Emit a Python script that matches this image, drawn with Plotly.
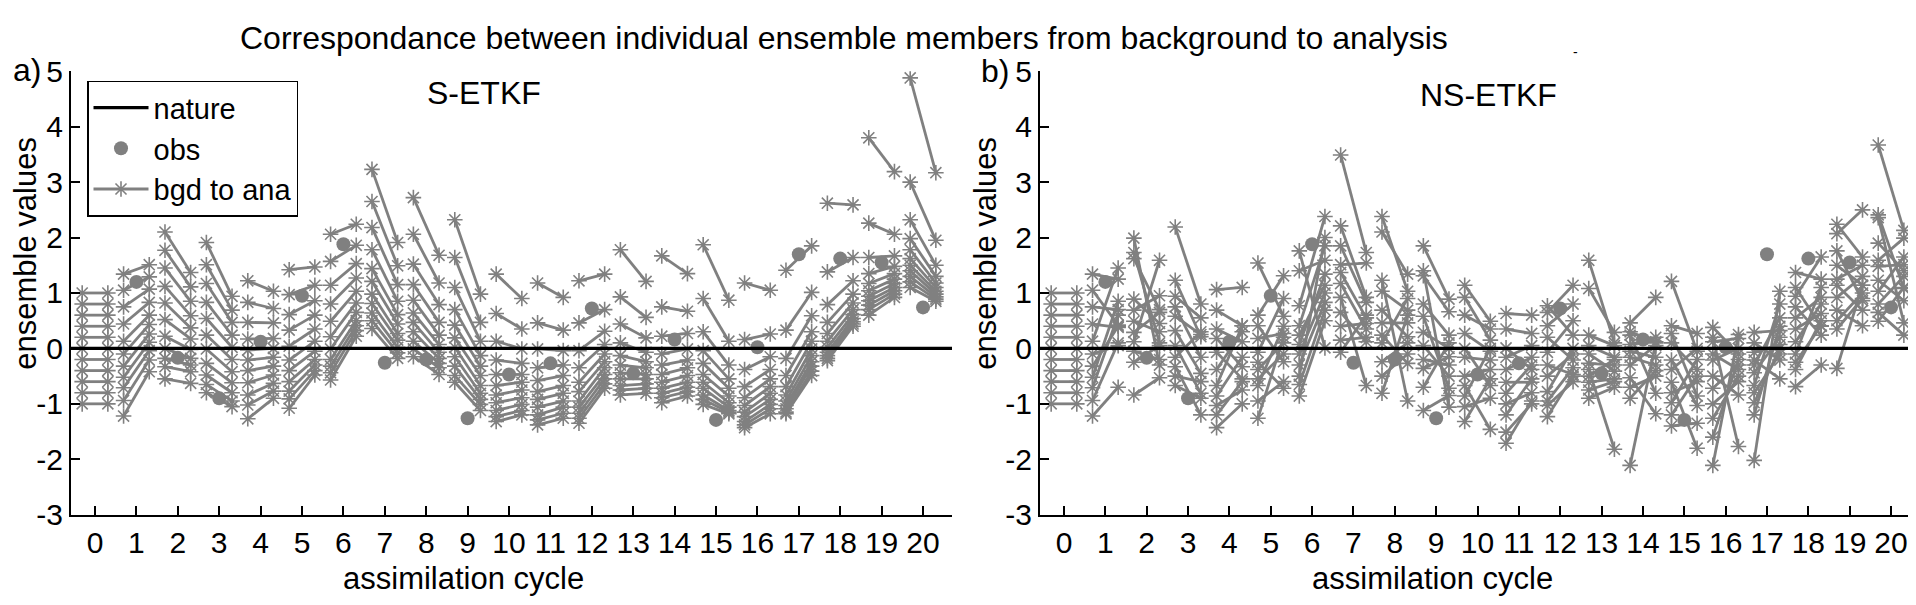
import plotly.graph_objects as go

# assimilation cycles and observations
cycles = list(range(21))
obs_cycles = list(range(1, 21))
obs_values = [1.2, -0.17, -0.9, 0.12, 0.95, 1.88, -0.26, -0.2, -1.26, -0.47,
              -0.27, 0.72, -0.45, 0.16, -1.29, 0.02, 1.7, 1.62, 1.55, 0.74]
nature_values = [0.0, 0.0]
y_ticks = [-3, -2, -1, 0, 1, 2, 3, 4, 5]
y_ticklabels = ["-3", "-2", "-1", "0", "1", "2", "3", "4", "5"]

# S-ETKF: background / analysis value of each of the 11 members, per cycle
s_bgd = [
    [1.0, 0.8, 0.6, 0.4, 0.2, 0.0, -0.2, -0.4, -0.6, -0.8, -1.0],
    [1.34, 1.05, 0.75, 0.44, 0.13, -0.1, -0.32, -0.52, -0.71, -0.94, -1.22],
    [2.10, 1.77, 1.45, 1.12, 0.82, 0.52, 0.22, 0.0, -0.18, -0.33, -0.55],
    [1.91, 1.51, 1.17, 0.83, 0.54, 0.24, -0.01, -0.27, -0.48, -0.65, -0.8],
    [1.22, 0.83, 0.47, 0.17, -0.03, -0.21, -0.4, -0.62, -0.84, -1.02, -1.27],
    [1.42, 0.97, 0.61, 0.33, 0.04, -0.21, -0.4, -0.6, -0.77, -0.91, -1.08],
    [2.06, 1.57, 1.14, 0.8, 0.49, 0.21, -0.01, -0.2, -0.32, -0.44, -0.57],
    [3.23, 2.65, 2.18, 1.78, 1.44, 1.21, 0.98, 0.81, 0.64, 0.5, 0.36],
    [2.72, 2.06, 1.52, 1.15, 0.87, 0.64, 0.47, 0.3, 0.13, -0.01, -0.15],
    [2.32, 1.64, 1.1, 0.7, 0.42, 0.19, 0.02, -0.15, -0.32, -0.49, -0.61],
    [1.34, 0.63, 0.13, -0.21, -0.47, -0.67, -0.84, -0.98, -1.12, -1.23, -1.32],
    [1.18, 0.46, -0.01, -0.35, -0.58, -0.78, -0.92, -1.06, -1.2, -1.29, -1.38],
    [1.22, 0.46, -0.04, -0.35, -0.61, -0.78, -0.95, -1.06, -1.17, -1.26, -1.35],
    [1.78, 0.93, 0.44, 0.1, -0.13, -0.3, -0.44, -0.55, -0.67, -0.75, -0.84],
    [1.67, 0.75, 0.22, -0.1, -0.3, -0.47, -0.61, -0.72, -0.81, -0.89, -0.98],
    [1.87, 0.9, 0.3, -0.04, -0.27, -0.47, -0.61, -0.72, -0.84, -0.92, -1.01],
    [1.18, 0.16, -0.38, -0.69, -0.89, -1.03, -1.15, -1.23, -1.32, -1.38, -1.43],
    [1.41, 0.33, -0.18, -0.49, -0.69, -0.84, -0.95, -1.03, -1.09, -1.15, -1.18],
    [2.62, 1.38, 0.79, 0.47, 0.27, 0.13, 0.02, -0.07, -0.13, -0.18, -0.22],
    [3.8, 2.26, 1.64, 1.35, 1.17, 1.04, 0.94, 0.86, 0.78, 0.7, 0.6],
    [4.88, 3.0, 2.32, 1.98, 1.78, 1.62, 1.5, 1.4, 1.3, 1.2, 1.1],
]
s_ana = [
    [1.0, 0.8, 0.6, 0.4, 0.2, 0.0, -0.2, -0.4, -0.6, -0.8, -1.0],
    [1.51, 1.29, 1.07, 0.83, 0.60, 0.43, 0.26, 0.11, -0.04, -0.21, -0.42],
    [1.37, 1.11, 0.85, 0.59, 0.37, 0.17, -0.02, -0.18, -0.3, -0.42, -0.63],
    [0.94, 0.69, 0.47, 0.24, 0.02, -0.2, -0.42, -0.62, -0.8, -0.95, -1.05],
    [1.03, 0.72, 0.46, 0.18, 0.0, -0.16, -0.32, -0.48, -0.63, -0.77, -0.9],
    [1.47, 1.14, 0.86, 0.6, 0.35, 0.13, -0.05, -0.2, -0.3, -0.4, -0.48],
    [2.24, 1.86, 1.53, 1.27, 1.03, 0.82, 0.65, 0.5, 0.41, 0.32, 0.22],
    [1.91, 1.49, 1.15, 0.85, 0.61, 0.44, 0.27, 0.15, 0.02, -0.08, -0.18],
    [1.68, 1.18, 0.79, 0.47, 0.24, 0.07, -0.07, -0.18, -0.27, -0.35, -0.47],
    [0.98, 0.47, 0.13, -0.13, -0.32, -0.49, -0.67, -0.81, -0.92, -1.01, -1.12],
    [0.9, 0.35, -0.01, -0.27, -0.47, -0.61, -0.75, -0.89, -1.01, -1.12, -1.2],
    [0.92, 0.33, -0.04, -0.3, -0.49, -0.67, -0.81, -0.95, -1.06, -1.17, -1.26],
    [1.34, 0.7, 0.31, 0.07, -0.1, -0.24, -0.35, -0.47, -0.55, -0.64, -0.72],
    [1.21, 0.56, 0.19, -0.07, -0.24, -0.35, -0.47, -0.55, -0.64, -0.72, -0.81],
    [1.35, 0.67, 0.27, -0.01, -0.21, -0.35, -0.49, -0.61, -0.7, -0.78, -0.86],
    [0.87, 0.13, -0.3, -0.55, -0.72, -0.86, -0.98, -1.06, -1.12, -1.15, -1.18],
    [1.05, 0.26, -0.15, -0.38, -0.55, -0.69, -0.81, -0.92, -1.01, -1.09, -1.18],
    [1.85, 1.01, 0.59, 0.3, 0.13, -0.01, -0.13, -0.24, -0.32, -0.41, -0.49],
    [2.59, 1.64, 1.22, 0.98, 0.82, 0.7, 0.61, 0.54, 0.48, 0.44, 0.4],
    [3.19, 2.06, 1.67, 1.48, 1.35, 1.25, 1.17, 1.1, 1.04, 0.98, 0.92],
    [3.17, 1.95, 1.5, 1.3, 1.18, 1.1, 1.03, 0.98, 0.93, 0.89, 0.85],
]

# NS-ETKF: same layout
ns_bgd = [
    [1.0, 0.8, 0.6, 0.4, 0.2, 0.0, -0.2, -0.4, -0.6, -0.8, -1.0],
    [1.34, 1.05, 0.75, 0.44, 0.13, -0.1, -0.32, -0.52, -0.71, -0.94, -1.22],
    [1.99, 1.73, 1.62, 0.89, 0.69, 0.49, 0.29, 0.12, -0.05, -0.25, -0.84],
    [2.19, 1.23, 0.94, 0.75, 0.58, 0.32, 0.05, -0.16, -0.33, -0.5, -0.67],
    [1.06, 0.69, 0.35, 0.18, -0.07, -0.38, -0.67, -0.86, -1.03, -1.2, -1.43],
    [1.54, 0.6, 0.41, 0.18, -0.07, -0.25, -0.38, -0.55, -0.67, -0.95, -1.26],
    [1.76, 1.4, 0.77, 0.41, 0.24, 0.07, -0.1, -0.3, -0.5, -0.65, -0.86],
    [3.49, 2.21, 1.85, 1.51, 1.37, 1.17, 0.92, 0.65, 0.4, 0.15, -0.07],
    [2.38, 2.1, 1.23, 1.03, 0.69, 0.46, 0.24, 0.1, -0.24, -0.5, -0.81],
    [1.85, 1.4, 1.31, 0.8, 0.58, 0.29, 0.05, -0.2, -0.36, -0.7, -1.12],
    [1.14, 0.92, 0.6, 0.27, 0.0, -0.16, -0.5, -0.67, -0.86, -1.05, -1.32],
    [0.63, 0.35, 0.01, -0.16, -0.38, -0.61, -0.81, -1.0, -1.2, -1.51, -1.71],
    [0.77, 0.65, 0.41, 0.2, -0.07, -0.3, -0.5, -0.78, -0.95, -1.03, -1.23],
    [1.59, 1.08, 0.24, 0.05, -0.1, -0.27, -0.38, -0.5, -0.61, -0.75, -0.9],
    [0.46, 0.3, 0.24, 0.07, -0.05, -0.16, -0.3, -0.53, -0.7, -0.9, -2.11],
    [1.21, 0.41, 0.27, 0.1, -0.21, -0.38, -0.61, -0.8, -0.98, -1.2, -1.4],
    [0.38, 0.2, 0.12, -0.1, -0.21, -0.5, -0.72, -1.0, -1.26, -1.6, -2.11],
    [0.29, 0.1, -0.07, -0.21, -0.3, -0.44, -0.67, -0.8, -0.98, -1.2, -2.02],
    [1.37, 1.1, 0.94, 0.75, 0.55, 0.35, 0.12, -0.1, -0.25, -0.38, -0.69],
    [2.24, 2.07, 1.76, 1.5, 1.25, 1.14, 0.92, 0.69, 0.5, 0.35, -0.36],
    [3.67, 2.41, 2.36, 1.59, 1.48, 1.23, 1.03, 0.8, 0.65, 0.49, 1.9],
]
ns_ana = [
    [1.0, 0.8, 0.6, 0.4, 0.2, 0.0, -0.2, -0.4, -0.6, -0.8, -1.0],
    [1.25, 0.42, 0.7, 0.38, 1.45, 0.05, 0.4, 0.85, 0.6, 0.1, -0.7],
    [-0.3, 0.1, 0.7, 0.45, 0.95, 0.3, 0.65, 1.59, -0.2, 0.05, -0.53],
    [0.8, 0.21, 0.55, -0.16, 0.25, -0.45, -0.81, 0.3, -1.2, -0.6, -0.9],
    [1.1, 0.41, 0.12, -0.33, -0.55, 0.3, 0.41, -0.16, -0.75, -0.6, -1.0],
    [0.58, 1.31, -0.24, 0.27, 0.9, -0.72, 0.1, -0.1, 0.4, -0.6, 0.2],
    [0.01, 1.59, 2.38, 1.85, 1.14, 1.34, 1.0, 0.83, 2.0, 0.69, 0.5],
    [1.73, 0.92, 0.83, 1.54, 0.55, 0.35, -0.67, 0.12, 0.45, 0.2, 0.6],
    [1.03, 1.34, -0.95, 0.69, 0.21, 0.46, -0.27, 0.9, 0.1, -0.1, 0.6],
    [0.89, -1.06, 0.66, 0.24, -0.72, 0.0, -0.5, -0.3, -0.15, 0.1, -0.85],
    [0.49, 0.15, 0.35, -0.05, -0.67, -0.21, -0.38, -1.46, 0.0, -0.9, -0.55],
    [0.6, 0.27, -0.38, 0.05, -0.16, -0.61, -0.3, -0.8, -0.55, -1.0, -0.95],
    [0.24, 1.14, 0.8, -0.21, 0.5, -0.47, -0.1, 0.0, -0.35, -0.6, -0.5],
    [0.1, 0.29, 0.05, -0.16, -0.41, -0.3, -1.82, -0.2, -0.55, -0.6, -0.7],
    [0.92, 0.12, -0.81, 0.2, -0.16, -0.3, 0.05, -1.18, -0.5, -0.4, 0.1],
    [-0.05, 0.27, -0.86, -0.38, -1.03, 0.0, -1.8, -0.6, -0.2, -0.5, -1.35],
    [-0.1, -1.77, 0.18, -0.38, 0.0, -0.84, -0.3, -0.6, -0.5, -0.2, 0.25],
    [0.32, -0.21, 0.07, -0.55, 0.55, 0.2, 0.8, -0.1, 0.0, 0.4, 1.03],
    [1.25, 0.4, 1.65, 0.24, 0.92, 0.63, 0.8, 1.1, 0.41, 0.5, -0.3],
    [1.65, 2.5, 0.86, 1.14, 1.5, 0.69, 1.3, 0.41, 1.0, 0.9, 1.14],
    [2.13, 1.08, 0.46, 1.99, 1.51, 0.86, 1.65, 1.3, 0.24, 1.1, 1.4],
]

W, H = 1916, 605
GRAY = "#808080"
FONT = "Liberation Sans, Arial, sans-serif"
X_RANGE = [-0.58, 20.7]
OFF = 0.31  # horizontal offset of bgd / ana points around each cycle


def member_segments(bgd, ana):
    xs, ys = [], []
    for k, row_b, row_a in zip(cycles, bgd, ana):
        for b, a in zip(row_b, row_a):
            xs += [k - OFF, k + OFF, None]
            ys += [b, a, None]
    return xs, ys


fig = go.Figure()

for i, (bgd, ana) in enumerate([(s_bgd, s_ana), (ns_bgd, ns_ana)]):
    xa = "x" if i == 0 else "x2"
    ya = "y" if i == 0 else "y2"
    xs, ys = member_segments(bgd, ana)
    fig.add_trace(go.Scatter(
        x=xs, y=ys, xaxis=xa, yaxis=ya, mode="lines+markers",
        name="bgd to ana", legendrank=3, showlegend=(i == 0),
        line=dict(color=GRAY, width=2.8),
        marker=dict(symbol="asterisk-open", size=13, color=GRAY,
                    line=dict(color=GRAY, width=1.6)),
    ))
    fig.add_trace(go.Scatter(
        x=obs_cycles, y=obs_values, xaxis=xa, yaxis=ya, mode="markers",
        name="obs", legendrank=2, showlegend=(i == 0),
        marker=dict(symbol="circle", size=14, color=GRAY),
    ))
    fig.add_trace(go.Scatter(
        x=X_RANGE, y=nature_values, xaxis=xa, yaxis=ya, mode="lines",
        name="nature", legendrank=1, showlegend=(i == 0),
        line=dict(color="black", width=3.2),
    ))

axis_style = dict(
    showline=True, linecolor="black", linewidth=2, mirror=False,
    ticks="inside", ticklen=9, tickwidth=2, tickcolor="black",
    showgrid=False, zeroline=False, tickangle=0,
    tickfont=dict(family=FONT, size=30, color="black"),
)
ydom = [1 - 519 / H, 1 - 50 / H]
fig.update_layout(
    width=W, height=H, autosize=False,
    margin=dict(l=0, r=0, t=0, b=0),
    paper_bgcolor="white", plot_bgcolor="white",
    font=dict(family=FONT, size=30, color="black"),
    xaxis=dict(domain=[63 / W, 944 / W], range=X_RANGE, tickvals=cycles,
               anchor="y", **axis_style),
    yaxis=dict(domain=ydom, range=[-3, 5], tickvals=y_ticks,
               ticktext=y_ticklabels, anchor="x", **axis_style),
    xaxis2=dict(domain=[1032 / W, 1912 / W], range=X_RANGE, tickvals=cycles,
                anchor="y2", **axis_style),
    yaxis2=dict(domain=ydom, range=[-3, 5], tickvals=y_ticks,
                ticktext=y_ticklabels, anchor="x2", **axis_style),
    legend=dict(x=79 / W, y=1 - 60 / H, xanchor="left", yanchor="top",
                bordercolor="black", borderwidth=1.5, bgcolor="white",
                font=dict(family=FONT, size=29, color="black"),
                itemwidth=55, tracegroupgap=0),
    showlegend=True,
)


def label(text, px, py, size=32, angle=0):
    fig.add_annotation(text=text, x=px / W, y=1 - py / H, xref="paper",
                       yref="paper", showarrow=False, textangle=angle,
                       xanchor="center", yanchor="middle",
                       font=dict(family=FONT, size=size, color="black"))


label("Correspondance between individual ensemble members from background to analysis",
      836, 15)
label("a)", 19, 49)
label("b)", 987, 50)
label("S-ETKF", 476, 73)
label("NS-ETKF", 1480, 75)
label("-", 1567, 30, size=14)
label("ensemble values", 18, 243, size=31, angle=-90)
label("ensemble values", 978, 243, size=31, angle=-90)
label("assimilation cycle", 455, 587, size=31)
label("assimilation cycle", 1424, 587, size=31)

fig.write_html("out.html")
